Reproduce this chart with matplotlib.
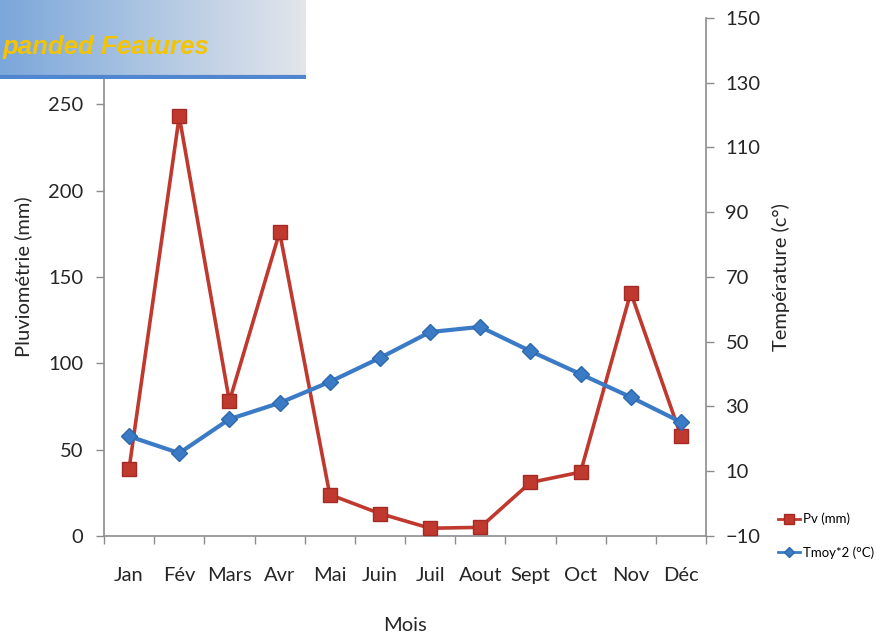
import matplotlib
matplotlib.use("Agg")
import matplotlib.pyplot as plt
import numpy as np
from matplotlib.lines import Line2D

months = ["Jan", "Fév", "Mars", "Avr", "Mai", "Juin", "Juil", "Aout", "Sept", "Oct", "Nov", "Déc"]
pv_mm = [39, 243, 78, 176, 24, 13, 4.5, 5, 31, 37, 141, 58]
tmoy2 = [20.8, 15.6, 26.1, 31.1, 37.6, 45.0, 53.0, 54.6, 47.1, 40.0, 32.9, 25.2]
left_ticks = [0, 50, 100, 150, 200, 250, 300]
right_ticks = [-10, 10, 30, 50, 70, 90, 110, 130, 150]

W, H = 882, 637
fig = plt.figure(figsize=(W / 100, H / 100), dpi=100)
fig.patch.set_facecolor("white")

font = "Lato"
red = "#c0392f"
blue = "#3b7bc6"
grey = "#8c8c8c"
txt = "#262626"
fs = 14.5

ax = fig.add_axes([104 / W, 1 - 536 / H, (706 - 104) / W, (536 - 18) / H])
ax2 = ax.twinx()

x = np.arange(len(months))
ax.plot(x, pv_mm, color=red, lw=2.6, marker="s", ms=9.5, mfc=red, mec="#a52a25", zorder=3)
ax2.plot(x, tmoy2, color=blue, lw=3.0, marker="D", ms=8, mfc=blue, mec="#2e68ad", zorder=4)

ax.set_xlim(-0.5, len(months) - 0.5)
ax.set_ylim(0, 300)
ax2.set_ylim(-10, 150)
ax.set_yticks(left_ticks)
ax2.set_yticks(right_ticks)
ax.set_xticks(x)
ax.set_xticklabels(months)
ax.set_xticks(np.arange(-0.5, len(months), 1), minor=True)
ax.tick_params(axis="x", which="major", length=0, pad=22)
ax.tick_params(axis="x", which="minor", length=6, direction="out", color=grey, width=1)

for a in (ax, ax2):
    for s in a.spines.values():
        s.set_color(grey)
        s.set_linewidth(1.2)
    a.spines["top"].set_visible(False)
ax.spines["right"].set_visible(False)
ax2.spines["left"].set_visible(False)
ax2.spines["bottom"].set_visible(False)

ax.tick_params(axis="y", length=6, color=grey, width=1, pad=9)
ax2.tick_params(axis="y", length=6, color=grey, width=1, pad=8)
for lab in ax.get_xticklabels() + ax.get_yticklabels() + ax2.get_yticklabels():
    lab.set_fontfamily(font)
    lab.set_fontsize(fs)
    lab.set_color(txt)

ax.set_ylabel("Pluviométrie (mm)", fontfamily=font, fontsize=fs, color=txt, labelpad=11)
ax2.set_ylabel("Température (c°)", fontfamily=font, fontsize=fs, color=txt, labelpad=8)
ax.set_xlabel("Mois", fontfamily=font, fontsize=fs, color=txt, labelpad=24)

handles = [
    Line2D([0], [0], color=red, lw=2, marker="s", ms=7, mfc=red, mec="#a52a25"),
    Line2D([0], [0], color=blue, lw=2, marker="D", ms=5.5, mfc=blue, mec="#2e68ad"),
]
fig.legend(handles, ["Pv (mm)", "Tmoy*2 (°C)"], loc="upper left",
           bbox_to_anchor=(771 / W, 1 - 506 / H), frameon=False,
           prop={"family": font, "size": 9.5}, handlelength=1.7, handletextpad=0.2,
           labelspacing=1.6, borderpad=0)

# banner
bax = fig.add_axes([0, 1 - 79 / H, 306 / W, 79 / H], zorder=10)
grad = np.linspace(0, 1, 256)
c0 = np.array([0x7b, 0xa7, 0xda]) / 255
c1 = np.array([0xe3, 0xe6, 0xeb]) / 255
img = c0[None, :] * (1 - grad[:, None]) + c1[None, :] * grad[:, None]
bax.imshow(img[None, :, :], aspect="auto", extent=[0, 1, 0, 1])
bax.axhline(0.02, color="#4f86cf", lw=3)
bax.set_xlim(0, 1)
bax.set_ylim(0, 1)
bax.axis("off")
bax.text(3 / 306, 0.40, "panded Features", ha="left", va="center",
         fontfamily="Liberation Sans", fontweight="bold", fontstyle="italic",
         fontsize=18.6, color="#f5c400")

fig.savefig("out.png", dpi=100)
